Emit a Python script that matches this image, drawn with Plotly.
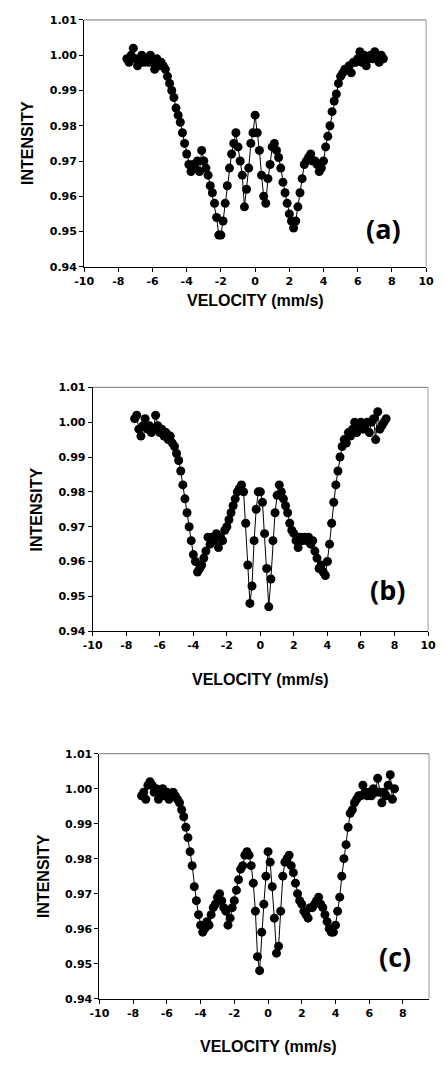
import plotly.graph_objects as go

# Velocity channels (mm/s)
VELOCITY = [
    -7.5, -7.375, -7.25, -7.125, -7.0, -6.875, -6.75, -6.625, -6.5, -6.375,
    -6.25, -6.125, -6.0, -5.875, -5.75, -5.625, -5.5, -5.375, -5.25, -5.125,
    -5.0, -4.875, -4.75, -4.625, -4.5, -4.375, -4.25, -4.125, -4.0, -3.875,
    -3.75, -3.625, -3.5, -3.375, -3.25, -3.125, -3.0, -2.875, -2.75, -2.625,
    -2.5, -2.375, -2.25, -2.125, -2.0, -1.875, -1.75, -1.625, -1.5, -1.375,
    -1.25, -1.125, -1.0, -0.875, -0.75, -0.625, -0.5, -0.375, -0.25, -0.125,
    0.0, 0.125, 0.25, 0.375, 0.5, 0.625, 0.75, 0.875, 1.0, 1.125,
    1.25, 1.375, 1.5, 1.625, 1.75, 1.875, 2.0, 2.125, 2.25, 2.375,
    2.5, 2.625, 2.75, 2.875, 3.0, 3.125, 3.25, 3.375, 3.5, 3.625,
    3.75, 3.875, 4.0, 4.125, 4.25, 4.375, 4.5, 4.625, 4.75, 4.875,
    5.0, 5.125, 5.25, 5.375, 5.5, 5.625, 5.75, 5.875, 6.0, 6.125,
    6.25, 6.375, 6.5, 6.625, 6.75, 6.875, 7.0, 7.125, 7.25, 7.375, 7.5,
]

INTENSITY_A = [
    0.999, 0.998, 1.000, 1.002, 0.999, 0.997, 0.999, 1.000, 0.998, 0.999,
    0.998, 1.000, 0.998, 0.996, 0.999, 0.997, 0.998, 0.997, 0.996, 0.994,
    0.992, 0.990, 0.988, 0.985, 0.983, 0.981, 0.978, 0.975, 0.972, 0.969,
    0.967, 0.969, 0.968, 0.970, 0.967, 0.973, 0.970, 0.968, 0.966, 0.963,
    0.961, 0.958, 0.954, 0.949, 0.949, 0.953, 0.958, 0.963, 0.968, 0.972,
    0.975, 0.978, 0.974, 0.970, 0.966, 0.957, 0.962, 0.968, 0.975, 0.978,
    0.983, 0.978, 0.973, 0.966, 0.960, 0.958, 0.965, 0.969, 0.974, 0.975,
    0.973, 0.971, 0.968, 0.964, 0.961, 0.958, 0.955, 0.953, 0.951, 0.953,
    0.957, 0.961, 0.965, 0.969, 0.970, 0.971, 0.972, 0.970, 0.970, 0.969,
    0.967, 0.968, 0.970, 0.974, 0.977, 0.980, 0.984, 0.987, 0.989, 0.992,
    0.994, 0.995, 0.996, 0.996, 0.997, 0.995, 0.998, 0.998, 0.999, 1.001,
    0.998, 1.000, 0.997, 0.999, 1.000, 0.999, 1.001, 0.999, 0.998, 1.000, 0.999,
]

INTENSITY_B = [
    1.001, 1.002, 0.998, 0.996, 0.999, 1.001, 0.998, 0.999, 0.997, 0.998,
    1.002, 0.999, 0.997, 0.998, 0.996, 0.997, 0.995, 0.996, 0.994, 0.993,
    0.991, 0.989, 0.986, 0.982, 0.978, 0.974, 0.970, 0.966, 0.962, 0.960,
    0.957, 0.958, 0.959, 0.961, 0.963, 0.967, 0.965, 0.967, 0.966, 0.968,
    0.964, 0.967, 0.966, 0.969, 0.970, 0.972, 0.974, 0.976, 0.978, 0.980,
    0.981, 0.982, 0.980, 0.971, 0.959, 0.948, 0.953, 0.966, 0.975, 0.980,
    0.980, 0.977, 0.968, 0.958, 0.947, 0.955, 0.966, 0.974, 0.979, 0.982,
    0.980, 0.978, 0.976, 0.974, 0.971, 0.969, 0.968, 0.966, 0.964, 0.967,
    0.966, 0.967, 0.966, 0.967, 0.965, 0.966, 0.963, 0.961, 0.958, 0.959,
    0.957, 0.956, 0.960, 0.965, 0.971, 0.977, 0.982, 0.986, 0.990, 0.993,
    0.995, 0.994, 0.997, 0.996, 0.998, 1.000, 0.997, 0.999, 1.000, 0.998,
    0.999, 1.000, 0.997, 1.000, 1.001, 0.995, 1.003, 0.998, 0.999, 1.000, 1.001,
]

INTENSITY_C = [
    0.998, 0.999, 0.997, 1.001, 1.002, 1.001, 0.999, 1.000, 0.997, 0.999,
    1.000, 0.998, 0.999, 0.997, 0.998, 0.999, 0.998, 0.997, 0.996, 0.994,
    0.992, 0.989, 0.986, 0.982, 0.978, 0.972, 0.968, 0.964, 0.961, 0.959,
    0.960, 0.962, 0.961, 0.964, 0.966, 0.967, 0.969, 0.970, 0.968, 0.966,
    0.965, 0.961, 0.963, 0.966, 0.968, 0.971, 0.974, 0.977, 0.978, 0.981,
    0.982, 0.981, 0.978, 0.973, 0.965, 0.952, 0.948, 0.959, 0.967, 0.975,
    0.982, 0.979, 0.972, 0.963, 0.953, 0.955, 0.965, 0.975, 0.979, 0.980,
    0.981, 0.978, 0.976, 0.973, 0.970, 0.968, 0.967, 0.965, 0.964, 0.963,
    0.966, 0.966, 0.967, 0.968, 0.969, 0.967, 0.966, 0.964, 0.962, 0.960,
    0.959, 0.959, 0.961, 0.965, 0.969, 0.975, 0.980, 0.984, 0.989, 0.993,
    0.994, 0.996, 0.997, 0.998, 0.998, 1.001, 0.999, 0.998, 0.999, 0.998,
    1.000, 0.999, 1.003, 0.999, 0.996, 0.999, 0.998, 1.001, 1.004, 0.997, 1.000,
]

PANEL_LABELS = ["(a)", "(b)", "(c)"]
X_TICKS = [-10, -8, -6, -4, -2, 0, 2, 4, 6, 8, 10]
Y_TICKS = [0.94, 0.95, 0.96, 0.97, 0.98, 0.99, 1.00, 1.01]
X_TITLE = "VELOCITY (mm/s)"
Y_TITLE = "INTENSITY"

# the page body keeps its default 8 px margin, so the figure is 16 px smaller
OFF = 8
W, H = 445 - 2 * OFF, 1065 - 2 * OFF

def px(x):
    return (x - OFF) / W

def py(y):
    return 1 - (y - OFF) / H

# plot-area boxes in page pixels: (left, right, top, bottom)
boxes = [(77, 434, 14, 264), (86, 436, 386, 633), (93, 445, 757, 1005)]
ytitle_x = [18, 27, 34]
xtitle_y = [298, 682, 1053]
label_pos = [(389, 225), (394, 591), (402, 962)]

series = [INTENSITY_A, INTENSITY_B, INTENSITY_C]

fig = go.Figure()
tick_font = dict(family="DejaVu Sans", size=11, color="black", weight="bold")
title_font = dict(family="Liberation Sans", size=16, color="black", weight="bold")

shapes = []
annotations = []
for i, (vals, box) in enumerate(zip(series, boxes)):
    l, r, t, b = box
    xa = "x" if i == 0 else f"x{i+1}"
    ya = "y" if i == 0 else f"y{i+1}"
    fig.add_trace(go.Scatter(
        x=VELOCITY, y=vals, mode="lines+markers",
        line=dict(color="black", width=1),
        marker=dict(color="black", size=9),
        xaxis=xa, yaxis=ya, showlegend=False, cliponaxis=False,
    ))
    xr = min(px(r), 1.0)
    # visible part of the -10..10 axis when the box runs past the figure edge
    xmax = -10 + 20 * (xr - px(l)) / (px(r) - px(l))
    axx = dict(
        domain=[px(l), xr], range=[-10, xmax], anchor=ya,
        tickvals=X_TICKS, ticktext=[str(v) for v in X_TICKS],
        ticks="outside", ticklen=4, tickcolor="black", tickwidth=1,
        showline=True, linecolor="black", linewidth=1,
        showgrid=False, zeroline=False, tickfont=tick_font,
        ticklabeloverflow="allow",
    )
    axy = dict(
        domain=[py(b), py(t)], range=[0.94, 1.01], anchor=xa,
        tickvals=Y_TICKS, ticktext=[f"{v:.2f}" for v in Y_TICKS],
        ticks="outside", ticklen=4, tickcolor="black", tickwidth=1,
        showline=True, linecolor="black", linewidth=1,
        showgrid=False, zeroline=False, tickfont=tick_font,
    )
    key = "" if i == 0 else str(i + 1)
    fig.update_layout(**{f"xaxis{key}": axx, f"yaxis{key}": axy})
    # faint top and right frame
    shapes.append(dict(type="line", xref="paper", yref="paper",
                       x0=px(l), x1=xr, y0=py(t), y1=py(t),
                       line=dict(color="#777777", width=1)))
    shapes.append(dict(type="line", xref="paper", yref="paper",
                       x0=xr, x1=xr, y0=py(b), y1=py(t),
                       line=dict(color="#999999", width=1)))
    annotations.append(dict(text=Y_TITLE, xref="paper", yref="paper",
                            x=px(ytitle_x[i]), y=py((t + b) / 2), textangle=-90,
                            showarrow=False, font=title_font,
                            xanchor="center", yanchor="middle"))
    annotations.append(dict(text=X_TITLE, xref="paper", yref="paper",
                            x=px((l + r) / 2), y=py(xtitle_y[i]),
                            showarrow=False, font=title_font,
                            xanchor="center", yanchor="middle"))
    lx, ly = label_pos[i]
    annotations.append(dict(text=PANEL_LABELS[i], xref="paper", yref="paper",
                            x=px(lx), y=py(ly), showarrow=False,
                            font=dict(family="Open Sans", size=27, color="black", weight="bold"),
                            xanchor="center", yanchor="middle"))

fig.update_layout(
    width=W, height=H, margin=dict(l=0, r=0, t=0, b=0),
    paper_bgcolor="white", plot_bgcolor="white",
    shapes=shapes, annotations=annotations,
)

fig.write_html("out.html", config={"displayModeBar": False})
